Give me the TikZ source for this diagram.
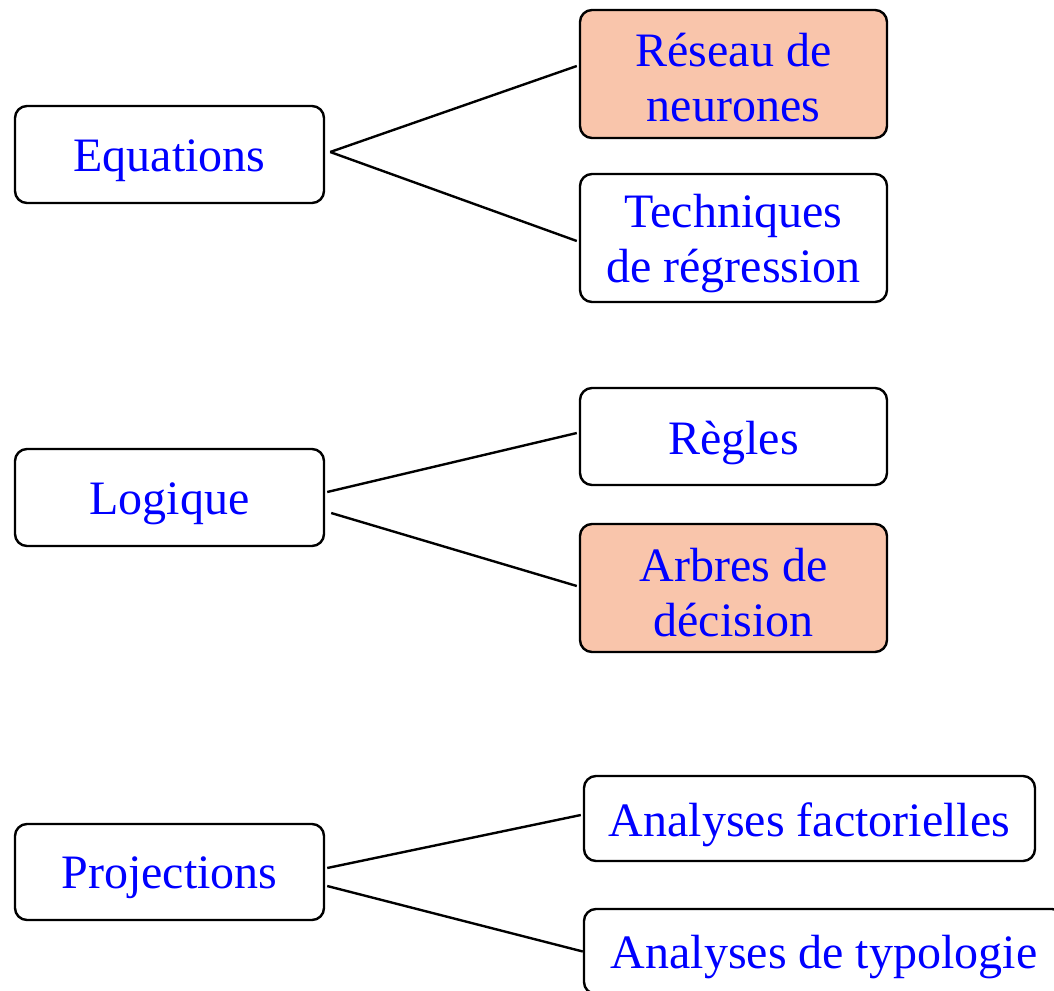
\documentclass[tikz,border=0pt]{standalone}
\usepackage{fontspec}
\setmainfont{Liberation Serif}
\usetikzlibrary{calc}
\definecolor{salmon}{HTML}{F9C5AB}
\begin{document}
\begin{tikzpicture}[x=1pt,y=-1pt,
  box/.style={draw=black, line width=2.4pt, rounded corners=12pt, fill=white,
    inner sep=0pt, minimum width=307pt, minimum height=97pt},
  hi/.style={box, fill=salmon, minimum height=128pt},
  tall/.style={box, minimum height=128pt},
  wide/.style={box, minimum height=85pt},
  txt/.style={text=blue, font=\fontsize{48}{55}\selectfont, align=center, inner sep=0pt},
  link/.style={line width=2.4pt}]
\useasboundingbox (0,0) rectangle (1054,990);
\clip (0,0) rectangle (1054,990);
\node[box, minimum width=309pt] (eq) at (169.5,154.5) {};
\node[hi] (res) at (733.5,74) {};
\node[tall] (tech) at (733.5,238) {};
\node[box, minimum width=309pt] (log) at (169.5,497.5) {};
\node[box] (reg) at (733.5,436.5) {};
\node[hi] (arb) at (733.5,588) {};
\node[box, minimum width=309pt, minimum height=96pt] (proj) at (169.5,872) {};
\node[wide, minimum width=451pt] (af) at (809.5,818.5) {};
\node[wide, minimum width=480pt] (at) at (824,951.5) {};
\node[txt] (eqT) at ($(eq.center)+(0,6)$) {Equations};
\node[txt] (resT) at ($(res.center)+(0,4)$) {Réseau de\\neurones};
\node[txt] (techT) at ($(tech.center)+(0,6)$) {Techniques\\de régression};
\node[txt] (logT) at ($(log.center)+(0,6)$) {Logique};
\node[txt] (regT) at ($(reg.center)+(0,6)$) {Règles};
\node[txt] (arbT) at ($(arb.center)+(0,5)$) {Arbres de\\décision};
\node[txt] (projT) at ($(proj.center)+(0,6)$) {Projections};
\node[txt] (afT) at ($(af.center)+(0,6)$) {Analyses factorielles};
\node[txt] (atT) at ($(at.center)+(0,6)$) {Analyses de typologie};
\draw[link] ($(eq.east)+(5,-2.5)$) -- ($(res.west)+(-2,-8)$);
\draw[link] ($(eq.east)+(5,-2.5)$) -- ($(tech.west)+(-2,3)$);
\draw[link] ($(log.east)+(2,-5.5)$) -- ($(reg.west)+(-2,-3.5)$);
\draw[link] ($(log.east)+(6,15.5)$) -- ($(arb.west)+(-2,-2)$);
\draw[link] ($(proj.east)+(2,-4)$) -- ($(af.west)+(-2,-3.5)$);
\draw[link] ($(proj.east)+(2,14)$) -- (at.west);
\end{tikzpicture}
\end{document}
